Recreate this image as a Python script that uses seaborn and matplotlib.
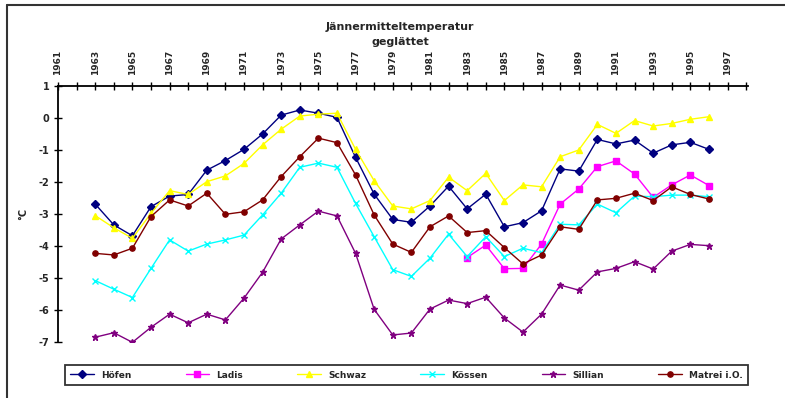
import numpy as np
import pandas as pd
import matplotlib
matplotlib.use("Agg")
import matplotlib.pyplot as plt
from matplotlib.lines import Line2D
from matplotlib.ticker import MultipleLocator, FixedLocator
import seaborn as sns

# January mean temperature, smoothed (°C)
years = list(range(1963, 1997))
years_ladis = list(range(1983, 1997))

hoefen = [-2.69, -3.34, -3.68, -2.77, -2.44, -2.39, -1.63, -1.33, -0.98, -0.50,
          0.09, 0.25, 0.15, 0.02, -1.23, -2.38, -3.17, -3.26, -2.75, -2.13,
          -2.84, -2.38, -3.40, -3.27, -2.90, -1.59, -1.66, -0.67, -0.81, -0.69,
          -1.10, -0.84, -0.76, -0.98]
ladis = [-4.36, -3.97, -4.71, -4.70, -3.94, -2.69, -2.22, -1.52, -1.34, -1.75,
         -2.48, -2.09, -1.78, -2.11]
schwaz = [-3.05, -3.43, -3.76, -2.98, -2.27, -2.39, -1.99, -1.81, -1.42, -0.84,
          -0.35, 0.06, 0.12, 0.15, -0.98, -1.96, -2.75, -2.84, -2.58, -1.85,
          -2.27, -1.73, -2.58, -2.09, -2.15, -1.21, -1.00, -0.20, -0.48, -0.08,
          -0.25, -0.17, -0.04, 0.04]
koessen = [-5.08, -5.35, -5.61, -4.70, -3.81, -4.16, -3.94, -3.81, -3.66, -3.03,
           -2.35, -1.54, -1.41, -1.54, -2.67, -3.71, -4.74, -4.95, -4.38, -3.63,
           -4.33, -3.71, -4.33, -4.07, -4.21, -3.32, -3.34, -2.69, -2.96, -2.44,
           -2.46, -2.41, -2.41, -2.46]
sillian = [-6.85, -6.71, -7.01, -6.54, -6.13, -6.40, -6.13, -6.31, -5.63, -4.82,
           -3.78, -3.34, -2.91, -3.06, -4.23, -5.98, -6.78, -6.72, -5.97, -5.69,
           -5.80, -5.60, -6.25, -6.69, -6.13, -5.22, -5.38, -4.81, -4.70, -4.49,
           -4.72, -4.16, -3.95, -3.99]
matrei = [-4.23, -4.28, -4.07, -3.08, -2.56, -2.75, -2.35, -3.01, -2.93, -2.56,
          -1.83, -1.21, -0.63, -0.77, -1.78, -3.03, -3.94, -4.20, -3.40, -3.06,
          -3.58, -3.52, -4.05, -4.56, -4.28, -3.40, -3.48, -2.56, -2.51, -2.35,
          -2.58, -2.15, -2.39, -2.53]

stations = ["Höfen", "Ladis", "Schwaz", "Kössen", "Sillian", "Matrei i.O."]
colors = ["#000080", "#FF00FF", "#FFFF00", "#00FFFF", "#800080", "#800000"]
markers = ["D", "s", "^", "x", "*", "o"]
msizes = [3.6, 3.8, 4.6, 3.8, 4.6, 3.8]

series = {
    "Höfen": (years, hoefen),
    "Ladis": (years_ladis, ladis),
    "Schwaz": (years, schwaz),
    "Kössen": (years, koessen),
    "Sillian": (years, sillian),
    "Matrei i.O.": (years, matrei),
}
frames = [pd.DataFrame({"Jahr": x, "Temperatur": y, "Station": name})
          for name, (x, y) in series.items()]
df = pd.concat(frames, ignore_index=True)

sns.set_style("white")
plt.rcParams["font.family"] = ["DejaVu Sans"]

fig = plt.figure(figsize=(7.85, 3.98), dpi=100)
ax = fig.add_axes([58 / 785, 1 - 342 / 398, (748 - 58) / 785, (342 - 86) / 398])

for name, col, mk, ms in zip(stations, colors, markers, msizes):
    sub = df[df["Station"] == name]
    sns.lineplot(data=sub, x="Jahr", y="Temperatur", ax=ax, color=col,
                 marker=mk, markersize=ms, markeredgecolor=col,
                 markeredgewidth=1.0, linewidth=1.0, legend=False)

ax.set_xlim(1961, 1998.1)
ax.set_ylim(-7, 1)

# x axis drawn along the top, crossing at +1
ax.xaxis.tick_top()
ax.xaxis.set_label_position("top")
ax.xaxis.set_major_locator(FixedLocator(list(range(1961, 1998, 2))))
ax.xaxis.set_minor_locator(FixedLocator(list(range(1962, 1999, 2))))
ax.set_xticklabels([str(y) for y in range(1961, 1998, 2)], rotation=90,
                   fontsize=6.5, fontweight="bold")
ax.yaxis.set_major_locator(MultipleLocator(1))
ax.set_yticklabels([str(int(v)) for v in ax.get_yticks()], fontsize=7,
                   fontweight="bold")
ax.tick_params(axis="x", which="both", direction="inout", length=6, width=1,
               color="black", pad=5, top=True, bottom=False)
ax.tick_params(axis="y", which="major", direction="inout", length=6, width=1,
               color="black", pad=3, left=True)
ax.set_xlabel("")
ax.set_ylabel("°C", fontsize=7, fontweight="bold", labelpad=8)

for side in ["bottom", "right"]:
    ax.spines[side].set_visible(False)
for side in ["top", "left"]:
    ax.spines[side].set_visible(True)
    ax.spines[side].set_color("black")
    ax.spines[side].set_linewidth(1.3)
ax.grid(False)

fig.text(400 / 785, 1 - 27 / 398, "Jännermitteltemperatur", ha="center",
         va="center", fontsize=8, fontweight="bold")
fig.text(400 / 785, 1 - 42 / 398, "geglättet", ha="center", va="center",
         fontsize=8, fontweight="bold")

handles = [Line2D([0], [0], color=c, marker=m, markersize=s,
                  markeredgecolor=c, linewidth=1.0)
           for c, m, s in zip(colors, markers, msizes)]
leg = fig.legend(handles, stations, loc="center", ncol=6, mode="expand",
                 bbox_to_anchor=(65 / 785, 1 - 389 / 398, 683 / 785, 28 / 398),
                 fancybox=False, frameon=True, fontsize=6.5, handlelength=2.6,
                 borderaxespad=0, borderpad=0.6, columnspacing=1.0)
leg.get_frame().set_edgecolor("black")
leg.get_frame().set_linewidth(1.3)
for t in leg.get_texts():
    t.set_fontweight("bold")

# outer chart-area frame
fig.add_artist(Line2D([7 / 785, 7 / 785], [0, 1 - 5 / 398], color="#333333",
                      linewidth=1.5, transform=fig.transFigure))
fig.add_artist(Line2D([7 / 785, 1], [1 - 5 / 398, 1 - 5 / 398],
                      color="#333333", linewidth=1.5, transform=fig.transFigure))

fig.savefig("out.png", dpi=100)
